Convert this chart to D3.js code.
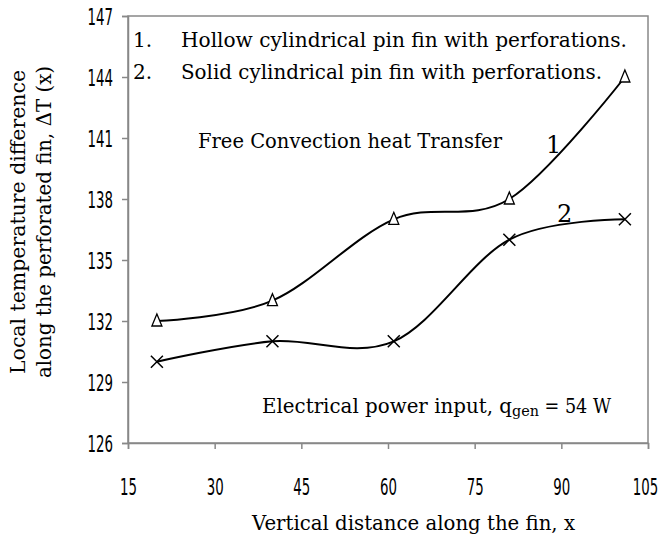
<!DOCTYPE html>
<html>
<head>
<meta charset="utf-8">
<script src="https://cdn.jsdelivr.net/npm/d3@7"></script>
<style>
  body { margin: 0; background: #fff; }
  svg text { fill: #000; }
</style>
</head>
<body>
<div id="chart"></div>
<script>
var xValues = [20, 40, 61, 81, 101];
var hollowValues = [132, 133, 137, 138, 144];
var solidValues = [130, 131, 131, 136, 137];
var xTicks = [15, 30, 45, 60, 75, 90, 105];
var yTicks = [126, 129, 132, 135, 138, 141, 144, 147];

var width = 665, height = 539;
var margin = { top: 16, right: 17, bottom: 96, left: 128 };

var svg = d3.select("#chart").append("svg")
    .attr("width", width)
    .attr("height", height);

var x = d3.scaleLinear().domain([15, 105]).range([margin.left, width - margin.right]);
var y = d3.scaleLinear().domain([126, 147]).range([height - margin.bottom, margin.top]);

var serif = "'DejaVu Serif', 'Liberation Serif', serif";
var cond = "'DejaVu Sans Condensed', 'DejaVu Sans', sans-serif";
var squeeze = 0.645; // tick digits are tall and narrow

// squeeze text to the width
function fit(sel, w) {
  sel.attr("textLength", w).attr("lengthAdjust", "spacingAndGlyphs");
}

// frame
svg.append("rect")
    .attr("x", x(15)).attr("y", y(147))
    .attr("width", x(105) - x(15)).attr("height", y(126) - y(147))
    .attr("fill", "none").attr("stroke", "#888").attr("stroke-width", 1.5);

var yAxis = svg.append("g")
    .attr("transform", "translate(" + x(15) + ",0)")
    .call(d3.axisLeft(y).tickValues(yTicks).tickSize(6));
var xAxis = svg.append("g")
    .attr("transform", "translate(0," + y(126) + ")")
    .call(d3.axisBottom(x).tickValues(xTicks).tickSize(6));

[xAxis, yAxis].forEach(function(a) {
  a.select(".domain").attr("stroke", "#888").attr("stroke-width", 1.5);
  a.selectAll(".tick line").attr("stroke", "#888").attr("stroke-width", 1.5);
  a.selectAll(".tick text")
      .attr("font-family", cond)
      .attr("font-size", 23)
      .attr("fill", "#000")
      .attr("transform", "scale(" + squeeze + ",1)");
});
yAxis.selectAll(".tick text").attr("x", -15 / squeeze).attr("dy", "0.36em");
xAxis.selectAll(".tick text").attr("y", 52).attr("dy", 0)
    .attr("x", function(d) { return d === 105 ? -3 / squeeze : 0; });

var line = d3.line()
    .x(function(d) { return x(d[0]); })
    .y(function(d) { return y(d[1]); })
    .curve(d3.curveCardinal.tension(0));

var hollow = xValues.map(function(v, i) { return [v, hollowValues[i]]; });
var solid = xValues.map(function(v, i) { return [v, solidValues[i]]; });

svg.append("path").datum(hollow).attr("d", line)
    .attr("fill", "none").attr("stroke", "#000").attr("stroke-width", 2);
svg.append("path").datum(solid).attr("d", line)
    .attr("fill", "none").attr("stroke", "#000").attr("stroke-width", 2);

// triangle markers
svg.selectAll(".tri").data(hollow).join("path")
    .attr("class", "tri")
    .attr("transform", function(d) { return "translate(" + x(d[0]) + "," + y(d[1]) + ")"; })
    .attr("d", "M0,-7L5,5L-5,5Z")
    .attr("fill", "#fff").attr("stroke", "#000").attr("stroke-width", 1.3);

// x markers
svg.selectAll(".cross").data(solid).join("path")
    .attr("class", "cross")
    .attr("transform", function(d) { return "translate(" + x(d[0]) + "," + y(d[1]) + ")"; })
    .attr("d", "M-6,-6L6,6M-6,6L6,-6")
    .attr("fill", "none").attr("stroke", "#000").attr("stroke-width", 1.5);

// legend text
var legend = [["1.", "Hollow cylindrical pin fin with perforations.", 47, 446],
              ["2.", "Solid cylindrical pin fin with perforations.", 79, 421]];
legend.forEach(function(l) {
  svg.append("text").attr("x", 133).attr("y", l[2])
      .attr("font-family", serif).attr("font-size", 20).text(l[0]);
  svg.append("text").attr("x", 181).attr("y", l[2])
      .attr("font-family", serif).attr("font-size", 20).text(l[1])
      .call(fit, l[3]);
});

svg.append("text").attr("x", 198).attr("y", 148)
    .attr("font-family", serif).attr("font-size", 20)
    .text("Free Convection heat Transfer")
    .call(fit, 304);

svg.append("text").attr("x", 546).attr("y", 153)
    .attr("font-family", serif).attr("font-size", 24).text("1");
svg.append("text").attr("x", 557).attr("y", 222)
    .attr("font-family", serif).attr("font-size", 24).text("2");

var pw = svg.append("text").attr("x", 262).attr("y", 413)
    .attr("font-family", serif).attr("font-size", 20);
pw.append("tspan").text("Electrical power input, q").call(fit, 250);
pw.append("tspan").attr("font-size", 14).attr("dy", 3).text("gen").call(fit, 27);
pw.append("tspan").attr("dy", -3).text(" = 54 W").call(fit, 72);

// axis titles
svg.append("text").attr("x", 252).attr("y", 530)
    .attr("font-family", serif).attr("font-size", 20)
    .text("Vertical distance along the fin, x")
    .call(fit, 323);

var yt = svg.append("text")
    .attr("transform", "translate(25,222) rotate(-90)")
    .attr("text-anchor", "middle")
    .attr("font-family", serif).attr("font-size", 20);
yt.append("tspan").attr("x", 0).attr("y", 0).text("Local temperature difference").call(fit, 304);
yt.append("tspan").attr("x", 0).attr("y", 26).text("along the perforated fin, \u0394T (x)").call(fit, 312);
</script>
</body>
</html>
